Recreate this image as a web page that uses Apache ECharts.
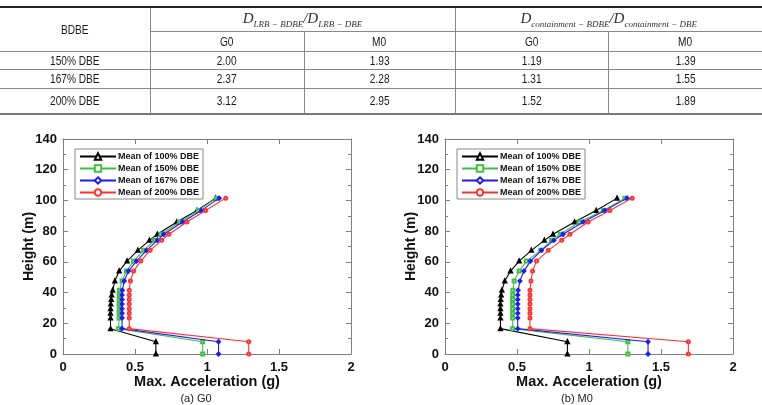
<!DOCTYPE html>
<html>
<head>
<meta charset="utf-8">
<script src="https://cdn.jsdelivr.net/npm/echarts@6/dist/echarts.min.js"></script>
<style>
  body { margin: 0; background: #fff; }
  #main { position: absolute; left: 0; top: 0; width: 762px; height: 405px; }
  #tbl {
    position: absolute; left: 0; top: 6px; width: 762px;
    border-collapse: collapse; table-layout: fixed;
    font-family: 'Liberation Sans', Arial, sans-serif;
    font-size: 13px; color: #1a1a1a; z-index: 2;
  }
  #tbl td { text-align: center; vertical-align: middle; padding: 0; border: 1px solid #888; white-space: nowrap; }
  #tbl tr td:first-child { border-left: none; }
  #tbl tr td:last-child { border-right: none; }
  #tbl tr:first-child td { border-top: 2px solid #222; }
  #tbl tr:last-child td { border-bottom: 2px solid #777; }
  .n { display: inline-block; transform: scaleX(0.78); }
  .m { font-family: 'Liberation Serif', 'DejaVu Serif', serif; font-style: italic; font-size: 15px; color: #333; }
  .m sub { font-size: 9px; }
</style>
</head>
<body>
<table id="tbl">
  <colgroup><col style="width:150px"><col style="width:154px"><col style="width:151px"><col style="width:153px"><col style="width:154px"></colgroup>
  <tr style="height:24px">
    <td rowspan="2"><span class="n">BDBE</span></td>
    <td colspan="2"><span class="m">D<sub>LRB − BDBE</sub>/D<sub>LRB − DBE</sub></span></td>
    <td colspan="2"><span class="m">D<sub>containment − BDBE</sub>/D<sub>containment − DBE</sub></span></td>
  </tr>
  <tr style="height:20px"><td><span class="n">G0</span></td><td><span class="n">M0</span></td><td><span class="n">G0</span></td><td><span class="n">M0</span></td></tr>
  <tr style="height:18px"><td><span class="n">150% DBE</span></td><td><span class="n">2.00</span></td><td><span class="n">1.93</span></td><td><span class="n">1.19</span></td><td><span class="n">1.39</span></td></tr>
  <tr style="height:19px"><td><span class="n">167% DBE</span></td><td><span class="n">2.37</span></td><td><span class="n">2.28</span></td><td><span class="n">1.31</span></td><td><span class="n">1.55</span></td></tr>
  <tr style="height:26px"><td><span class="n">200% DBE</span></td><td><span class="n">3.12</span></td><td><span class="n">2.95</span></td><td><span class="n">1.52</span></td><td><span class="n">1.89</span></td></tr>
</table>
<div id="main"></div>
<script>
// heights of the recorded levels (m)
const heights = [0, 8, 16.5, 23.5, 26.5, 29.5, 32.5, 35.5, 38.5, 41.5, 47.5, 54, 60.5, 67.5, 74, 78, 86, 93.5, 101.5];

const seriesNames = ['Mean of 100% DBE', 'Mean of 150% DBE', 'Mean of 167% DBE', 'Mean of 200% DBE'];
const seriesColors = ['#000000', '#40bf40', '#1a1aff', '#ff3030'];
const seriesSymbols = ['emptyTriangle', 'emptyRect', 'emptyDiamond', 'emptyCircle'];

// max acceleration (g), model G0
const g0_100 = [0.645, 0.645, 0.33, 0.33, 0.33, 0.33, 0.332, 0.335, 0.338, 0.345, 0.36, 0.39, 0.445, 0.52, 0.60, 0.655, 0.79, 0.93, 1.06];
const g0_150 = [0.97, 0.97, 0.385, 0.39, 0.39, 0.39, 0.39, 0.39, 0.39, 0.392, 0.41, 0.44, 0.49, 0.56, 0.635, 0.68, 0.81, 0.94, 1.065];
const g0_167 = [1.08, 1.08, 0.41, 0.41, 0.41, 0.41, 0.41, 0.41, 0.41, 0.412, 0.425, 0.455, 0.51, 0.58, 0.655, 0.70, 0.83, 0.96, 1.085];
const g0_200 = [1.29, 1.29, 0.46, 0.46, 0.46, 0.46, 0.46, 0.46, 0.46, 0.46, 0.468, 0.49, 0.54, 0.605, 0.685, 0.735, 0.86, 0.99, 1.13];

// max acceleration (g), model M0
const m0_100 = [0.85, 0.85, 0.385, 0.385, 0.385, 0.385, 0.385, 0.387, 0.39, 0.395, 0.415, 0.455, 0.515, 0.60, 0.69, 0.75, 0.90, 1.05, 1.195];
const m0_150 = [1.27, 1.27, 0.47, 0.47, 0.47, 0.47, 0.47, 0.47, 0.47, 0.472, 0.48, 0.515, 0.565, 0.665, 0.74, 0.80, 0.935, 1.10, 1.25];
const m0_167 = [1.41, 1.41, 0.505, 0.505, 0.505, 0.505, 0.505, 0.505, 0.505, 0.508, 0.52, 0.548, 0.594, 0.67, 0.756, 0.82, 0.96, 1.11, 1.265];
const m0_200 = [1.69, 1.69, 0.59, 0.59, 0.59, 0.59, 0.59, 0.59, 0.59, 0.59, 0.597, 0.608, 0.636, 0.717, 0.81, 0.867, 0.994, 1.145, 1.30];

const xTicks = [0, 0.5, 1, 1.5, 2];
const yTicks = [0, 20, 40, 60, 80, 100, 120, 140];
const captions = ['(a) G0', '(b) M0'];

const panels = [[g0_100, g0_150, g0_167, g0_200], [m0_100, m0_150, m0_167, m0_200]];
const gridLeft = [63, 445];
const captionX = [196, 577];

const axisGray = '#808080';
const labelFont = { fontFamily: 'Liberation Sans, Arial, sans-serif', fontWeight: 'bold', color: '#111' };

function xAxisFor (i, bottom) {
    return {
        type: 'value', gridIndex: i, position: bottom ? 'bottom' : 'top',
        min: xTicks[0], max: xTicks[xTicks.length - 1], interval: xTicks[1] - xTicks[0],
        axisLine: { show: true, onZero: false, lineStyle: { color: axisGray, width: 1 } },
        axisTick: { show: true, inside: true, length: 5, lineStyle: { color: axisGray } },
        axisLabel: bottom ? Object.assign({ fontSize: 13, margin: 7 }, labelFont) : { show: false },
        splitLine: { show: false },
        name: bottom ? 'Max. Acceleration (g)' : '',
        nameLocation: 'middle', nameGap: 20, nameMoveOverlap: false,
        nameTextStyle: Object.assign({ fontSize: 14.5 }, labelFont)
    };
}

function yAxisFor (i, left) {
    return {
        type: 'value', gridIndex: i, position: left ? 'left' : 'right',
        min: yTicks[0], max: yTicks[yTicks.length - 1], interval: yTicks[1] - yTicks[0],
        axisLine: { show: true, onZero: false, lineStyle: { color: axisGray, width: 1 } },
        axisTick: { show: true, inside: true, length: 5, lineStyle: { color: axisGray } },
        minorTick: { show: true, splitNumber: 2, length: 3, lineStyle: { color: axisGray } },
        axisLabel: left ? Object.assign({ fontSize: 13, margin: 6 }, labelFont) : { show: false },
        splitLine: { show: false },
        name: left ? 'Height (m)' : '',
        nameLocation: 'middle', nameGap: 27, nameMoveOverlap: false,
        nameTextStyle: Object.assign({ fontSize: 14 }, labelFont)
    };
}

const grids = [], xAxes = [], yAxes = [], series = [], legends = [], graphics = [];
panels.forEach((vals, i) => {
    grids.push({ left: gridLeft[i], top: 139, width: 288, height: 215 });
    xAxes.push(xAxisFor(i, true), xAxisFor(i, false));
    yAxes.push(yAxisFor(i, true), yAxisFor(i, false));
    vals.forEach((arr, k) => {
        series.push({
            name: seriesNames[k], type: 'line',
            xAxisIndex: i * 2, yAxisIndex: i * 2,
            data: arr.map((a, j) => [a, heights[j]]),
            symbol: seriesSymbols[k], symbolSize: 3,
            lineStyle: { color: seriesColors[k], width: 1.1 },
            itemStyle: { color: seriesColors[k], borderWidth: 0.8 },
            z: 2 + k
        });
    });
    legends.push({
        data: seriesNames, orient: 'vertical',
        left: gridLeft[i] + 12, top: 149,
        padding: [3, 4, 2, 4], itemGap: 3, itemWidth: 36, itemHeight: 8,
        backgroundColor: '#fff', borderColor: '#888', borderWidth: 1,
        itemStyle: { borderWidth: 1 },
        textStyle: { fontFamily: 'Liberation Sans, Arial, sans-serif', fontWeight: 'bold', fontSize: 9, color: '#111', padding: [0, 0, 0, -3] }
    });
    graphics.push({
        type: 'text', x: captionX[i], y: 399,
        style: { text: captions[i], font: '11px Liberation Sans, Arial, sans-serif', fill: '#222', align: 'center', verticalAlign: 'middle' }
    });
});

const myChart = echarts.init(document.getElementById('main'));
myChart.setOption({
    animation: false,
    backgroundColor: '#fff',
    grid: grids,
    xAxis: xAxes,
    yAxis: yAxes,
    legend: legends,
    series: series,
    graphic: graphics
});
</script>
</body>
</html>
